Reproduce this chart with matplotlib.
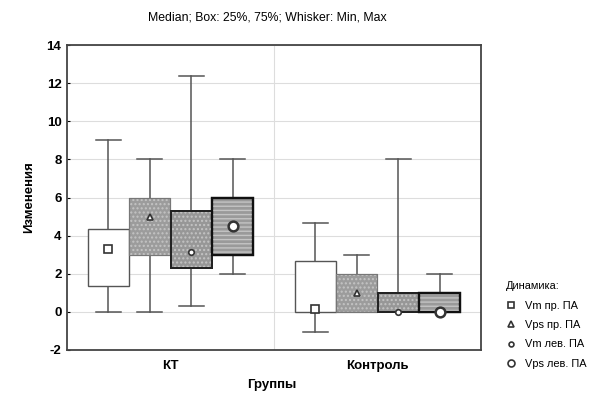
import matplotlib
matplotlib.use("Agg")
import matplotlib.pyplot as plt
from matplotlib.lines import Line2D

plt.rcParams['font.family'] = ['Liberation Sans', 'DejaVu Sans']
plt.rcParams['hatch.linewidth'] = 1.0

groups = ["КТ", "Контроль"]
series = ["Vm пр. ПА", "Vps пр. ПА", "Vm лев. ПА", "Vps лев. ПА"]
# per series: values for [КТ, Контроль]
medians = [[3.3, 0.15], [5.0, 1.0], [3.15, 0.0], [4.5, 0.0]]
q1 = [[1.35, 0.0], [3.0, 0.0], [2.3, 0.0], [3.0, 0.0]]
q3 = [[4.35, 2.65], [6.0, 2.0], [5.3, 1.0], [6.0, 1.0]]
mins = [[0.0, -1.05], [0.0, 0.0], [0.3, 0.0], [2.0, 0.0]]
maxs = [[9.0, 4.65], [8.0, 3.0], [12.35, 8.0], [8.0, 2.0]]
yticks = [-2, 0, 2, 4, 6, 8, 10, 12, 14]

fills = ["white", "#9c9c9c", "#979797", "#9a9a9a"]
edges = ["#555555", "#777777", "#222222", "#111111"]
edge_lw = [1.0, 0.8, 1.4, 1.6]
hatches = [None, "....", "....", "----"]
markers = ["s", "^", "o", "o"]
msizes = [6, 4, 4, 7]
offsets = [-0.3, -0.1, 0.1, 0.3]
width = 0.198

fig = plt.figure(figsize=(5.89, 3.94), dpi=100)
ax = fig.add_axes([67/589, 1-350/394, (481-67)/589, (350-45)/394])

for s in range(4):
    pos = [g + offsets[s] for g in range(len(groups))]
    stats = []
    for g in range(len(groups)):
        stats.append(dict(med=medians[s][g], q1=q1[s][g], q3=q3[s][g],
                          whislo=mins[s][g], whishi=maxs[s][g], fliers=[]))
    bp = ax.bxp(stats, positions=pos, widths=width, patch_artist=True,
                showfliers=False, manage_ticks=False,
                boxprops=dict(facecolor=fills[s], edgecolor=edges[s], linewidth=edge_lw[s]),
                whiskerprops=dict(color="#555555", linewidth=1.1),
                capprops=dict(color="#555555", linewidth=1.1),
                capwidths=0.12,
                medianprops=dict(linestyle="none"))
    for b in bp['boxes']:
        b.set_zorder(3)
    if hatches[s]:
        for g in range(len(groups)):
            ax.bar(pos[g], q3[s][g] - q1[s][g], bottom=q1[s][g], width=width,
                   facecolor="none", edgecolor="#c4c4c4", linewidth=0,
                   hatch=hatches[s], zorder=3.5)
        for g in range(len(groups)):
            ax.bar(pos[g], q3[s][g] - q1[s][g], bottom=q1[s][g], width=width,
                   facecolor="none", edgecolor=edges[s], linewidth=edge_lw[s], zorder=3.6)
    ax.plot(pos, medians[s], linestyle="none", marker=markers[s], markersize=msizes[s],
            markerfacecolor="white", markeredgecolor="#333333",
            markeredgewidth=1.2 if s != 3 else 1.8, zorder=5)

ax.set_xlim(-0.5, 1.5)
ax.set_ylim(-2, 14)
ax.set_yticks(yticks)
ax.set_yticklabels([str(t) for t in yticks], fontsize=9.5, fontweight="bold")
ax.set_xticks([0, 1])
ax.set_xticklabels(groups, fontsize=9.5, fontweight="bold")
ax.tick_params(axis="x", length=0, pad=7)
ax.tick_params(axis="y", direction="in", length=2, pad=4)
ax.grid(axis="y", color="#dddddd", linewidth=0.8, zorder=0)
ax.axvline(0.5, color="#dddddd", linewidth=0.8, zorder=0)
ax.set_axisbelow(True)
for sp in ax.spines.values():
    sp.set_color("#444444")
    sp.set_linewidth(1.3)

ax.set_ylabel("Изменения", fontsize=9.5, fontweight="bold", labelpad=8)
fig.text(272/589, 1-385/394, "Группы", fontsize=9.5, fontweight="bold", ha="center", va="center")
fig.text(267/589, 1-18/394, "Median; Box: 25%, 75%; Whisker: Min, Max", fontsize=8.8,
         ha="center", va="center")

handles = [Line2D([], [], linestyle="none", marker=markers[s], markersize=[5, 4, 3.5, 5][s],
                  markerfacecolor="white", markeredgecolor="#333333", markeredgewidth=1.2)
           for s in range(4)]
leg = fig.legend(handles, series, loc="upper left", bbox_to_anchor=(500/589, 1-276/394),
                 frameon=False, title="Динамика:", fontsize=7.9, title_fontsize=7.9,
                 handlelength=1.0, handletextpad=0.8, labelspacing=0.85, borderpad=0)
leg._legend_box.align = "left"

fig.savefig("out.png", dpi=100)
